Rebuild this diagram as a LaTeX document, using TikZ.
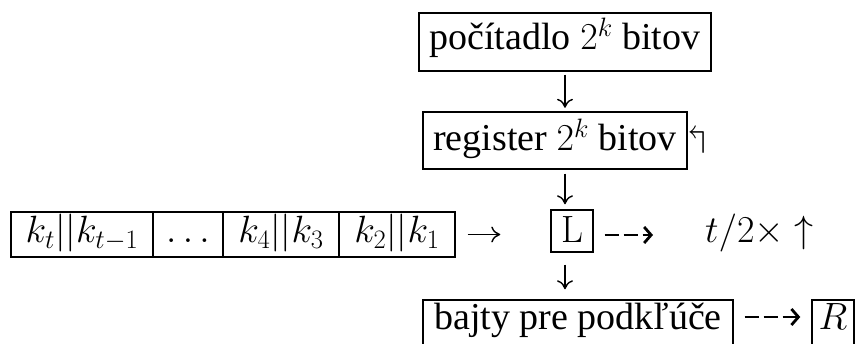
\RequirePackage{fix-cm}
\documentclass[tikz,border=0pt]{standalone}
\usepackage[no-math]{fontspec}
\setmainfont{Liberation Serif}
\usepackage{amssymb}
\usetikzlibrary{arrows.meta}

\tikzset{
  box/.style={draw, line width=1.4pt, inner sep=0pt, align=center},
  arr/.style={line width=1.4pt, -{To[length=9pt,width=16pt]}},
  darr/.style={line width=1.7pt, dash pattern=on 14pt off 5pt,
    -{Straight Barb[length=7pt,width=16pt,line width=2.8pt]}},
}

\begin{document}
\begin{tikzpicture}[x=1pt, y=-1pt, font=\fontsize{38}{44}\selectfont]
\useasboundingbox (0,0) rectangle (855,344);

% counter and register
\node[box, minimum width=292pt, text height=37pt, text depth=21pt] (cnt) at (565,42) {počítadlo $2^k$ bitov};
\node[box, minimum width=264pt, text height=39pt, text depth=18pt] (reg) at (555,140.5) {register $2^k$ bitov};
\node[inner sep=0pt] (lsh) at (697,140.5) {$\Lsh$};

% key halves
\node[box, minimum width=142pt, text height=31pt, text depth=14pt] (k1) at (82,234.5) {$k_t||k_{t-1}$};
\node[box, minimum width=70pt, text height=31pt, text depth=14pt] (k2) at (188,234.5) {$\ldots$};
\node[box, minimum width=116pt, text height=31pt, text depth=14pt] (k3) at (281,234.5) {$k_4||k_3$};
\node[box, minimum width=116pt, text height=31pt, text depth=14pt] (k4) at (397,234.5) {$k_2||k_1$};

% L block and its output
\node[box, minimum width=42pt, text height=33pt, text depth=9pt] (L) at (572,231) {$\mathrm{L}$};
\node[inner sep=0pt, anchor=base west] (tt) at (705,243) {$t/2\times\uparrow$};

% subkey bytes and R
\node[box, minimum width=310pt, text height=30pt, text depth=20pt] (sub) at (578,325) {bajty pre podkľúče};
\node[box, minimum width=42pt, text height=30pt, text depth=20pt] (R) at (833,325) {$R$};

% connectors
\draw[arr, shorten <=3pt, shorten >=3.5pt] (cnt.south) -- (cnt.south |- reg.north);
\draw[arr, shorten <=4pt, shorten >=5pt] (cnt.south |- reg.south) -- (cnt.south |- L.north);
\draw[arr, shorten <=12pt, shorten >=10pt] (cnt.south |- L.south) -- (cnt.south |- sub.north);
\draw[arr, shorten <=12pt, shorten >=50pt] (k4.east) -- (k4.east -| L.west);
\draw[darr, shorten <=11pt, shorten >=52pt] ([yshift=-4pt]L.east) -- ([yshift=-4pt]L.east -| tt.west);
\draw[darr, shorten <=11pt, shorten >=11pt] ([yshift=8pt]sub.east) -- ([yshift=8pt]sub.east -| R.west);
\end{tikzpicture}
\end{document}
